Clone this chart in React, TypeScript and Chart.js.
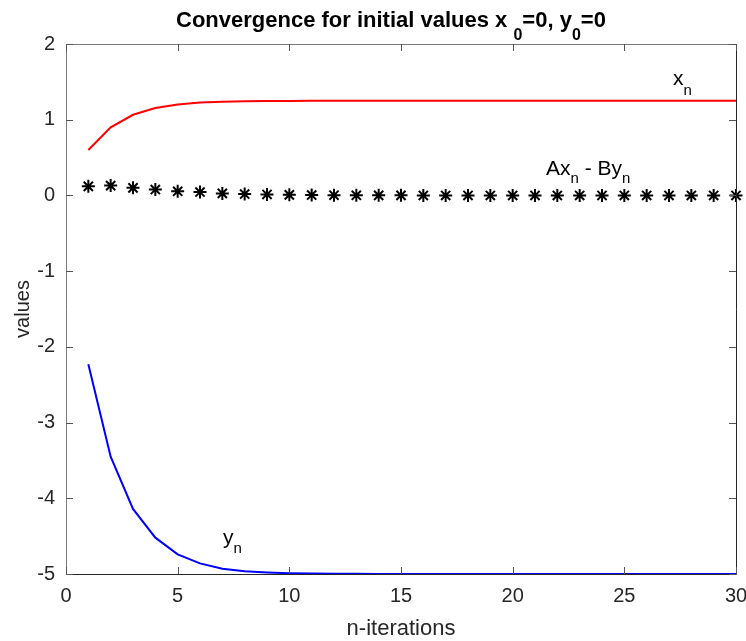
import React, { useEffect, useRef } from "react";
import { Chart, registerables } from "chart.js";

Chart.register(...registerables);

const iterations = [1, 2, 3, 4, 5, 6, 7, 8, 9, 10, 11, 12, 13, 14, 15, 16, 17, 18, 19, 20, 21, 22, 23, 24, 25, 26, 27, 28, 29, 30];
const xValues = [0.6, 0.9, 1.065, 1.155, 1.2, 1.228, 1.238, 1.244, 1.247, 1.248, 1.249, 1.25, 1.25, 1.25, 1.25, 1.25, 1.25, 1.25, 1.25, 1.25, 1.25, 1.25, 1.25, 1.25, 1.25, 1.25, 1.25, 1.25, 1.25, 1.25];
const yValues = [-2.23, -3.45, -4.14, -4.52, -4.74, -4.86, -4.93, -4.965, -4.98, -4.99, -4.995, -4.997, -4.998, -4.999, -5, -5, -5, -5, -5, -5, -5, -5, -5, -5, -5, -5, -5, -5, -5, -5];
const diffValues = [0.12, 0.13, 0.1, 0.078, 0.055, 0.045, 0.027, 0.018, 0.013, 0.008, 0.005, 0.003, 0.002, 0.001, 0.001, 0, 0, 0, 0, 0, 0, 0, 0, 0, 0, 0, 0, 0, 0, 0];

const xTickValues = [0, 5, 10, 15, 20, 25, 30];
const yTickValues = [-5, -4, -3, -2, -1, 0, 1, 2];

const SANS = "'Liberation Sans', Arial, Helvetica, sans-serif";
const AXIS_COLOR = "#262626";

function drawPieces(ctx: CanvasRenderingContext2D, x: number, y: number, pieces: { t: string; font: string; dy: number }[]) {
  let cx = x;
  ctx.textAlign = "left";
  ctx.textBaseline = "alphabetic";
  for (const p of pieces) {
    ctx.font = p.font;
    ctx.fillText(p.t, cx, y + p.dy);
    cx += ctx.measureText(p.t).width;
  }
}

const decorPlugin = {
  id: "decor",
  afterDraw(chart: any) {
    const ctx: CanvasRenderingContext2D = chart.ctx;
    const { left, right, top, bottom } = chart.chartArea;
    const xs = chart.scales.x;
    const ys = chart.scales.y;
    ctx.save();
    // box
    ctx.lineWidth = 1;
    ctx.strokeStyle = "#7a7a7a";
    ctx.beginPath();
    ctx.moveTo(left + 0.5, bottom);
    ctx.lineTo(left + 0.5, top + 0.5);
    ctx.lineTo(right, top + 0.5);
    ctx.stroke();
    ctx.strokeStyle = AXIS_COLOR;
    ctx.beginPath();
    ctx.moveTo(left, bottom + 0.5);
    ctx.lineTo(right + 0.5, bottom + 0.5);
    ctx.lineTo(right + 0.5, top);
    ctx.stroke();
    // ticks
    const tl = 7;
    ctx.strokeStyle = "#555";
    ctx.beginPath();
    for (const v of xTickValues) {
      const px = Math.round(xs.getPixelForValue(v)) + 0.5;
      ctx.moveTo(px, bottom);
      ctx.lineTo(px, bottom - tl);
      ctx.moveTo(px, top);
      ctx.lineTo(px, top + tl);
    }
    for (const v of yTickValues) {
      const py = Math.round(ys.getPixelForValue(v)) + 0.5;
      ctx.moveTo(left, py);
      ctx.lineTo(left + tl, py);
      ctx.moveTo(right, py);
      ctx.lineTo(right - tl, py);
    }
    ctx.stroke();

    ctx.fillStyle = "#000";
    // title
    const tb = `bold 22px ${SANS}`;
    const ts = `bold 16px ${SANS}`;
    drawPieces(ctx, 176, 27, [
      { t: "Convergence for initial values x ", font: tb, dy: 0 },
      { t: "0", font: ts, dy: 13 },
      { t: "=0, y", font: tb, dy: 0 },
      { t: "0", font: ts, dy: 13 },
      { t: "=0", font: tb, dy: 0 },
    ]);

    // axis labels
    ctx.fillStyle = AXIS_COLOR;
    ctx.font = `22px ${SANS}`;
    ctx.textAlign = "center";
    ctx.textBaseline = "alphabetic";
    ctx.fillText("n-iterations", (left + right) / 2, 635);
    ctx.save();
    ctx.translate(29, (top + bottom) / 2);
    ctx.rotate(-Math.PI / 2);
    ctx.font = `20px ${SANS}`;
    ctx.textAlign = "center";
    ctx.fillText("values", 0, 0);
    ctx.restore();

    // annotations
    ctx.fillStyle = "#000";
    const ab = `21px ${SANS}`;
    const as = `15px ${SANS}`;
    drawPieces(ctx, xs.getPixelForValue(27.18), ys.getPixelForValue(1.458), [
      { t: "x", font: ab, dy: 0 },
      { t: "n", font: as, dy: 10 },
    ]);
    drawPieces(ctx, xs.getPixelForValue(21.49), ys.getPixelForValue(0.27), [
      { t: "Ax", font: ab, dy: 0 },
      { t: "n", font: as, dy: 8 },
      { t: " - By", font: ab, dy: 0 },
      { t: "n", font: as, dy: 8 },
    ]);
    drawPieces(ctx, xs.getPixelForValue(7.03), ys.getPixelForValue(-4.604), [
      { t: "y", font: ab, dy: 0 },
      { t: "n", font: as, dy: 9 },
    ]);
    ctx.restore();
  },
};

export default function App() {
  const ref = useRef<HTMLCanvasElement | null>(null);
  useEffect(() => {
    if (!ref.current) return;
    const toPts = (vals: number[]) => iterations.map((it, i) => ({ x: it, y: vals[i] }));
    const chart = new Chart(ref.current, {
      type: "line",
      data: {
        datasets: [
          {
            label: "xn",
            data: toPts(xValues),
            borderColor: "#ff0000",
            borderWidth: 2,
            pointRadius: 0,
            tension: 0,
            fill: false,
            clip: false as any,
          },
          {
            label: "yn",
            data: toPts(yValues),
            borderColor: "#0000ff",
            borderWidth: 2,
            pointRadius: 0,
            tension: 0,
            fill: false,
            clip: false as any,
          },
          {
            label: "Axn - Byn",
            data: toPts(diffValues),
            showLine: false,
            pointStyle: "star",
            pointRadius: 6.5,
            borderColor: "#000",
            backgroundColor: "#000",
            borderWidth: 2,
            clip: false as any,
          },
        ],
      },
      options: {
        responsive: false,
        animation: false,
        layout: { padding: { top: 44, right: 10, left: 0, bottom: 0 } },
        plugins: {
          legend: { display: false },
          title: { display: false },
          tooltip: { enabled: false },
        },
        scales: {
          x: {
            type: "linear",
            min: 0,
            max: 30,
            grid: { display: false, drawTicks: false },
            border: { display: false },
            afterFit: (s: any) => {
              s.height = 67;
              s.paddingLeft = 0;
              s.paddingRight = 0;
            },
            afterBuildTicks: (s: any) => {
              s.ticks = xTickValues.map((v) => ({ value: v }));
            },
            ticks: {
              padding: 10,
              maxRotation: 0,
              autoSkip: false,
              color: AXIS_COLOR,
              font: { family: SANS, size: 20 },
            },
          },
          y: {
            type: "linear",
            min: -5,
            max: 2,
            grid: { display: false, drawTicks: false },
            border: { display: false },
            afterFit: (s: any) => {
              s.width = 66;
              s.paddingTop = 0;
              s.paddingBottom = 0;
            },
            afterBuildTicks: (s: any) => {
              s.ticks = yTickValues.map((v) => ({ value: v }));
            },
            ticks: {
              padding: 11,
              color: AXIS_COLOR,
              font: { family: SANS, size: 20 },
            },
          },
        },
      },
      plugins: [decorPlugin],
    });
    return () => chart.destroy();
  }, []);
  return (
    <div style={{ position: "absolute", left: 0, top: 0, width: 746, height: 641, background: "#fff" }}>
      <canvas ref={ref} width={746} height={641} style={{ display: "block" }} />
    </div>
  );
}
